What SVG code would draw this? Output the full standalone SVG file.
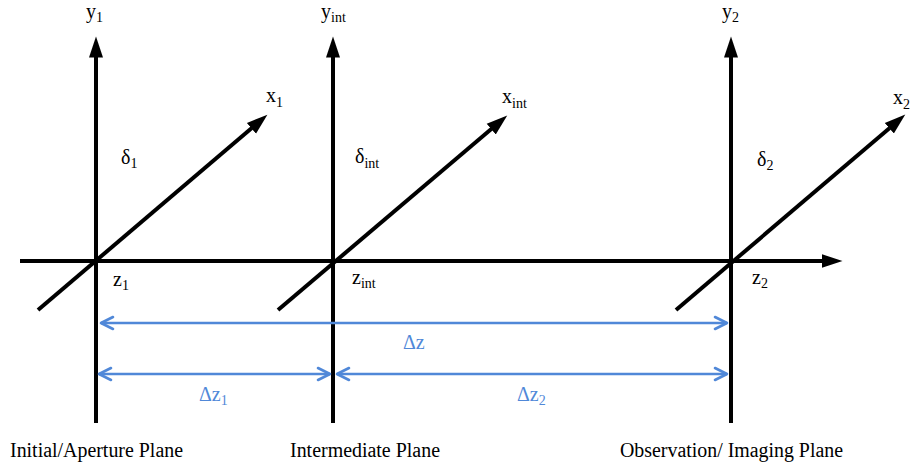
<svg xmlns="http://www.w3.org/2000/svg" width="921" height="469" viewBox="0 0 921 469">
<style>
.ax{stroke:#000;stroke-width:4;fill:none}
.arr{marker-end:url(#head)}
.dim{stroke:#5088d8;stroke-width:2.6;fill:none;marker-start:url(#chev);marker-end:url(#chev)}
text{font-family:"Liberation Serif","Times New Roman",serif;font-size:20px;fill:#000}
.sub{font-size:14px}
.blue{fill:#5088d8}
</style>
<defs>
<marker id="head" markerUnits="userSpaceOnUse" viewBox="0 -8 22 16" markerWidth="22" markerHeight="16" refX="0.5" refY="0" orient="auto">
<path d="M0,-7 L21,0 L0,7 z" fill="#000"/>
</marker>
<marker id="chev" markerUnits="userSpaceOnUse" viewBox="-15 -9 18 18" markerWidth="18" markerHeight="18" refX="0" refY="0" orient="auto-start-reverse">
<path d="M-12,-6 L0,0 L-12,6" fill="none" stroke="#5088d8" stroke-width="2.6" stroke-linecap="round" stroke-linejoin="round"/>
</marker>
</defs>
<g id="connectors">
<line class="ax arr" x1="20" y1="261" x2="822" y2="261"/>
<line class="ax arr" x1="96" y1="423" x2="96" y2="57"/>
<line class="ax arr" x1="333" y1="423" x2="333" y2="57"/>
<line class="ax arr" x1="731" y1="423" x2="731" y2="57"/>
<line class="ax arr" x1="38" y1="310" x2="251.8" y2="128"/>
<line class="ax arr" x1="278" y1="310" x2="491.6" y2="128.8"/>
<line class="ax arr" x1="676" y1="310" x2="889.7" y2="127.9"/>
<line class="dim" x1="101" y1="323" x2="727" y2="323"/>
<line class="dim" x1="99" y1="374" x2="330" y2="374"/>
<line class="dim" x1="337" y1="374" x2="727" y2="374"/>
</g>
<g id="plane1">
<text x="86" y="18">y<tspan class="sub" dy="4">1</tspan></text>
<text x="266" y="102">x<tspan class="sub" dy="5">1</tspan></text>
<text x="121" y="164">δ<tspan class="sub" dy="4">1</tspan></text>
<text x="113" y="286">z<tspan class="sub" dy="4">1</tspan></text>
<text x="10" y="457" textLength="173" lengthAdjust="spacingAndGlyphs">Initial/Aperture Plane</text>
</g>
<g id="plane-int">
<text x="321" y="18">y<tspan class="sub" dy="4">int</tspan></text>
<text x="502" y="103">x<tspan class="sub" dy="5">int</tspan></text>
<text x="355" y="163">δ<tspan class="sub" dy="5">int</tspan></text>
<text x="352" y="284">z<tspan class="sub" dy="4">int</tspan></text>
<text x="290" y="457" textLength="150" lengthAdjust="spacingAndGlyphs">Intermediate Plane</text>
</g>
<g id="plane2">
<text x="722" y="18">y<tspan class="sub" dy="4">2</tspan></text>
<text x="893" y="104">x<tspan class="sub" dy="5">2</tspan></text>
<text x="757" y="166">δ<tspan class="sub" dy="4">2</tspan></text>
<text x="752" y="284">z<tspan class="sub" dy="4">2</tspan></text>
<text x="620" y="457" textLength="223" lengthAdjust="spacingAndGlyphs">Observation/ Imaging Plane</text>
</g>
<g id="dim-labels">
<text class="blue" x="403" y="349">Δz</text>
<text class="blue" x="199" y="401">Δz<tspan class="sub" dy="4">1</tspan></text>
<text class="blue" x="517" y="401">Δz<tspan class="sub" dy="4">2</tspan></text>
</g>
</svg>
